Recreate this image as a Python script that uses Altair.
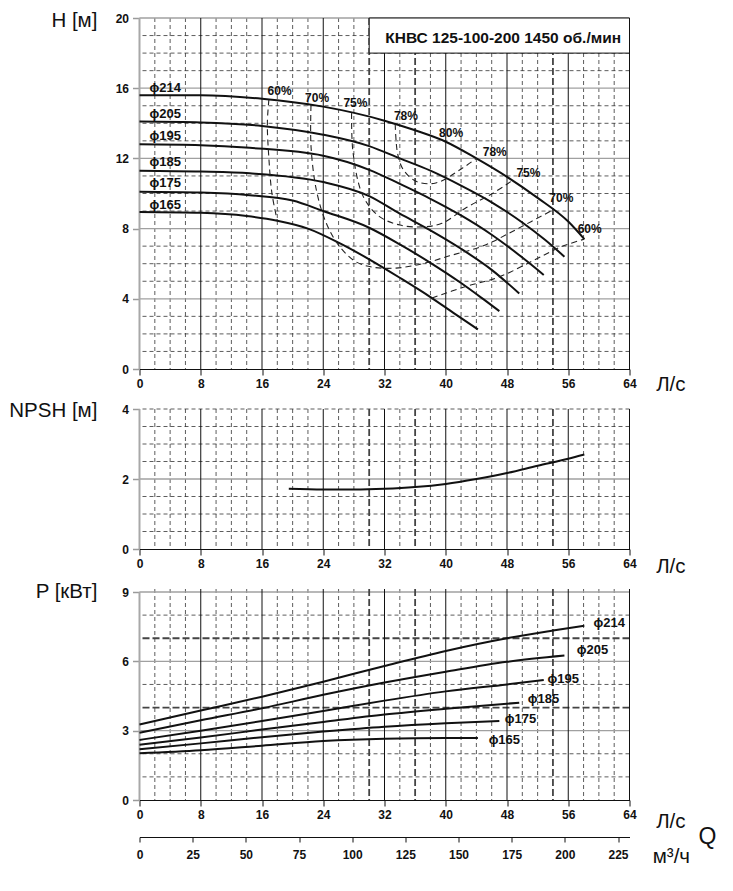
import altair as alt
import pandas as pd

# ---------------- data ----------------
Q_TICKS = [0, 8, 16, 24, 32, 40, 48, 56, 64]
M3_TICKS = [0, 25, 50, 75, 100, 125, 150, 175, 200, 225]
H_TICKS = [0, 4, 8, 12, 16, 20]
NPSH_TICKS = [0, 2, 4]
P_TICKS = [0, 3, 6, 9]

V_SOLID = [8, 16, 24, 32, 40, 48, 56, 64]
V_DASH = [2, 4, 6, 10, 12, 14, 18, 20, 22, 26, 28, 34, 38, 42, 44, 46, 50, 52, 58, 60, 62]
V_BOLD = [30, 36, 54]

H_GRID_SOLID = [4, 8, 12, 16, 20]
H_GRID_DASH = [1, 2, 3, 5, 6, 7, 9, 10, 11, 13, 14, 15, 17, 18, 19]
N_GRID_SOLID = [2]
N_GRID_DASH = [0.5, 1, 1.5, 2.5, 3, 3.5, 4]
P_GRID_SOLID = [3, 6, 9]
P_GRID_DASH = [1, 2, 5, 8]
P_GRID_BOLD = [4, 7]

DIAM = ["ϕ214", "ϕ205", "ϕ195", "ϕ185", "ϕ175", "ϕ165"]

# Head curves H(Q)
H214_Q = [0, 8, 16, 24, 32, 36, 40, 44, 48, 52, 56, 58.1]
H214_H = [15.6, 15.6, 15.4, 14.95, 14.15, 13.6, 12.95, 12.0, 10.95, 9.75, 8.4, 7.4]
H205_Q = [0, 8, 16, 24, 30, 34, 38, 42, 46, 50, 53, 55.5]
H205_H = [14.1, 14.05, 13.85, 13.35, 12.7, 12.0, 11.3, 10.45, 9.5, 8.35, 7.35, 6.4]
H195_Q = [0, 8, 14.4, 24, 30, 34, 38, 42, 46, 50, 52.8]
H195_H = [12.8, 12.75, 12.6, 12.15, 11.35, 10.55, 9.7, 8.75, 7.65, 6.35, 5.36]
H185_Q = [0, 8, 14.4, 24, 30, 34, 38, 42, 46, 49.6]
H185_H = [11.3, 11.25, 11.15, 10.65, 9.85, 8.85, 7.9, 6.85, 5.65, 4.3]
H175_Q = [0, 8, 14.4, 20, 24, 30, 34, 38, 42, 45, 47]
H175_H = [10.1, 10.05, 9.9, 9.6, 9.0, 8.05, 7.1, 6.05, 4.9, 3.95, 3.3]
H165_Q = [0, 8, 14, 18, 22, 26, 30, 34, 38, 41, 44.2]
H165_H = [8.95, 8.9, 8.72, 8.45, 8.0, 7.2, 6.25, 5.2, 4.1, 3.2, 2.26]

# Iso-efficiency curves (dashed)
E60L_Q = [16.9, 16.7, 16.9, 17.3, 18.0]
E60L_H = [15.35, 14.0, 12.0, 10.0, 8.45]
E70_Q = [22.4, 22.4, 23.1, 24.4, 26.1, 28.3, 30.5, 33.5, 37.0, 40.5, 44.8, 49.2, 54.0]
E70_H = [15.04, 12.7, 10.2, 8.3, 7.0, 6.1, 5.8, 5.75, 6.0, 6.45, 7.0, 7.95, 9.07]
E75_Q = [27.7, 27.9, 29.2, 31.3, 34.0, 37.0, 39.5, 42.7, 46.1, 48.7]
E75_H = [14.58, 12.3, 9.85, 8.7, 8.2, 8.1, 8.3, 9.2, 10.0, 10.74]
E78_Q = [33.4, 33.7, 34.4, 36.1, 38.7, 42.2, 44.0]
E78_H = [13.96, 12.3, 11.4, 10.7, 10.6, 11.45, 12.0]
E60R_Q = [38.2, 42.6, 47.0, 51.3, 55.0, 58.1]
E60R_H = [4.05, 4.7, 5.25, 6.15, 6.95, 7.4]

EFF_LABELS = ["60%", "70%", "75%", "78%", "80%", "78%", "75%", "70%", "60%"]
EFF_LABEL_Q = [18.3, 23.2, 28.2, 34.8, 40.7, 46.4, 50.8, 55.1, 58.8]
EFF_LABEL_H = [15.86, 15.43, 15.14, 14.43, 13.42, 12.39, 11.19, 9.75, 7.99]

DIAM_LABEL_Q = [1.3] * 6
DIAM_LABEL_H = [16.0, 14.53, 13.28, 11.82, 10.61, 9.37]

# NPSH curve
NPSH_Q = [19.5, 24, 28, 32, 36, 40, 44, 48, 52, 56, 58.1]
NPSH_V = [1.72, 1.70, 1.70, 1.72, 1.77, 1.86, 2.0, 2.17, 2.38, 2.58, 2.7]

# Power curves P(Q)
P214_Q = [0, 8, 16, 24, 32, 40, 48, 54, 58.1]
P214_P = [3.27, 3.87, 4.47, 5.12, 5.8, 6.45, 7.0, 7.33, 7.54]
P205_Q = [0, 8, 16, 24, 32, 40, 48, 55.5]
P205_P = [2.91, 3.45, 3.97, 4.55, 5.08, 5.55, 5.98, 6.25]
P195_Q = [0, 8, 16, 24, 32, 40, 48, 52.8]
P195_P = [2.6, 3.0, 3.42, 3.85, 4.3, 4.7, 5.0, 5.19]
P185_Q = [0, 8, 16, 24, 32, 40, 49.6]
P185_P = [2.39, 2.7, 3.05, 3.38, 3.7, 3.95, 4.21]
P175_Q = [0, 8, 16, 24, 32, 40, 47]
P175_P = [2.2, 2.45, 2.72, 2.96, 3.17, 3.32, 3.42]
P165_Q = [0, 8, 16, 24, 32, 40, 44.2]
P165_P = [2.02, 2.15, 2.35, 2.55, 2.65, 2.68, 2.68]

PLABEL_Q = [59.3, 57.1, 53.3, 50.7, 47.7, 45.6]
PLABEL_P = [7.65, 6.49, 5.24, 4.37, 3.49, 2.6]

TITLE = "КНВС 125-100-200 1450 об./мин"

# ---------------- styling ----------------
FONT_B = "'Liberation Sans Narrow', 'Liberation Sans', Arial, sans-serif"
FONT_T = "'Liberation Sans', Arial, sans-serif"
INK = "#111111"
TSIZE = 20.5

XAX = alt.Axis(values=Q_TICKS, title=None, grid=False, domainColor=INK, domainWidth=1.2,
               tickColor=INK, tickSize=6, tickWidth=1, labelFont=FONT_B, labelFontSize=12,
               labelFontWeight="bold", labelColor=INK, labelPadding=3, labelFlush=False,
               labelOverlap=False)


def yax(vals):
    return alt.Axis(values=vals, title=None, grid=False, domain=False, tickColor="#9a9a9a",
                    tickSize=7, tickWidth=1.5, labelFont=FONT_B, labelFontSize=12,
                    labelFontWeight="bold", labelColor=INK, labelPadding=4, labelOverlap=False)


def xenc(field="q"):
    return alt.X(f"{field}:Q", scale=alt.Scale(domain=[0, 64], nice=False, zero=False), axis=XAX)


def yenc(dom, vals, field="v"):
    return alt.Y(f"{field}:Q", scale=alt.Scale(domain=dom, nice=False, zero=False), axis=yax(vals))


def curves_df(names, qs, vs):
    rows = []
    for n, ql, vl in zip(names, qs, vs):
        for i, (q, v) in enumerate(zip(ql, vl)):
            rows.append({"d": n, "i": i, "q": q, "v": v})
    return pd.DataFrame(rows)


def grid_layers(dom, vals, hsolid, hdash, hbold):
    L = []
    L.append(alt.Chart(pd.DataFrame({"q": V_DASH})).mark_rule(
        color="#333", strokeWidth=0.8, strokeDash=[4, 3]).encode(x=xenc()))
    L.append(alt.Chart(pd.DataFrame({"v": hdash})).mark_rule(
        color="#333", strokeWidth=0.8, strokeDash=[4, 3]).encode(y=yenc(dom, vals)))
    if hbold:
        L.append(alt.Chart(pd.DataFrame({"v": hbold})).mark_rule(
            color="#444", strokeWidth=1.8, strokeDash=[7, 3]).encode(y=yenc(dom, vals)))
    L.append(alt.Chart(pd.DataFrame({"v": hsolid})).mark_rule(
        color="#a0a0a0", strokeWidth=1.3).encode(y=yenc(dom, vals)))
    L.append(alt.Chart(pd.DataFrame({"q": V_SOLID})).mark_rule(
        color=INK, strokeWidth=1).encode(x=xenc()))
    L.append(alt.Chart(pd.DataFrame({"q": V_BOLD})).mark_rule(
        color="#444", strokeWidth=1.8, strokeDash=[7, 3]).encode(x=xenc()))
    L.append(alt.Chart(pd.DataFrame({"q": [0], "v": [0], "v2": [vals[-1]]})).mark_rule(
        color="#a8a8a8", strokeWidth=2).encode(x=xenc(), y=yenc(dom, vals), y2="v2:Q"))
    return L


def text_layer(df, dom, vals, font, size, weight="bold", align="center", baseline="middle"):
    return alt.Chart(df).mark_text(font=font, fontSize=size, fontWeight=weight, color=INK,
                                   align=align, baseline=baseline).encode(
        x=xenc(), y=yenc(dom, vals), text="t:N")


# ---------------- panel 1: H ----------------
HDOM = [0, 20]
L1 = grid_layers(HDOM, H_TICKS, H_GRID_SOLID, H_GRID_DASH, None)
L1.append(alt.Chart(pd.DataFrame({"q": [30], "q2": [64], "v": [18], "v2": [20]})).mark_rect(
    fill="white", stroke=INK, strokeWidth=1).encode(x=xenc(), x2="q2:Q", y=yenc(HDOM, H_TICKS), y2="v2:Q"))
L1.append(text_layer(pd.DataFrame({"q": [47.5], "v": [18.85], "t": [TITLE]}), HDOM, H_TICKS,
                     "'Liberation Sans', Arial, sans-serif", 15.5))
hdf = curves_df(DIAM, [H214_Q, H205_Q, H195_Q, H185_Q, H175_Q, H165_Q],
                [H214_H, H205_H, H195_H, H185_H, H175_H, H165_H])
L1.append(alt.Chart(hdf).mark_line(color=INK, strokeWidth=2, interpolate="monotone").encode(
    x=xenc(), y=yenc(HDOM, H_TICKS), detail="d:N", order="i:Q"))
edf = curves_df(["e60l", "e70", "e75", "e78", "e60r"], [E60L_Q, E70_Q, E75_Q, E78_Q, E60R_Q],
                [E60L_H, E70_H, E75_H, E78_H, E60R_H])
L1.append(alt.Chart(edf).mark_line(color="#222", strokeWidth=1.1, strokeDash=[6, 4],
                                   interpolate="catmull-rom").encode(
    x=xenc(), y=yenc(HDOM, H_TICKS), detail="d:N", order="i:Q"))
L1.append(text_layer(pd.DataFrame({"q": EFF_LABEL_Q, "v": EFF_LABEL_H, "t": EFF_LABELS}),
                     HDOM, H_TICKS, FONT_B, 12))
L1.append(text_layer(pd.DataFrame({"q": DIAM_LABEL_Q, "v": DIAM_LABEL_H, "t": DIAM}),
                     HDOM, H_TICKS, FONT_B, 13, align="left"))
L1.append(text_layer(pd.DataFrame({"q": [-5.5], "v": [19.487], "t": ["H [м]"]}),
                     HDOM, H_TICKS, FONT_T, TSIZE, weight="normal", align="right",
                     baseline="alphabetic"))
L1.append(text_layer(pd.DataFrame({"q": [69.4], "v": [-0.91], "t": ["Л/с"]}),
                     HDOM, H_TICKS, FONT_T, TSIZE, weight="normal"))
p1 = alt.layer(*L1).properties(width=490, height=351)

# ---------------- panel 2: NPSH ----------------
NDOM = [0, 4]
L2 = grid_layers(NDOM, NPSH_TICKS, N_GRID_SOLID, N_GRID_DASH, None)
L2.append(alt.Chart(pd.DataFrame({"q": NPSH_Q, "v": NPSH_V})).mark_line(
    color=INK, strokeWidth=2, interpolate="monotone").encode(x=xenc(), y=yenc(NDOM, NPSH_TICKS)))
L2.append(text_layer(pd.DataFrame({"q": [-5.5], "v": [3.95], "t": ["NPSH [м]"]}),
                     NDOM, NPSH_TICKS, FONT_T, TSIZE, weight="normal", align="right"))
L2.append(text_layer(pd.DataFrame({"q": [69.4], "v": [-0.51], "t": ["Л/с"]}),
                     NDOM, NPSH_TICKS, FONT_T, TSIZE, weight="normal"))
p2 = alt.layer(*L2).properties(width=490, height=140)

# ---------------- panel 3: power ----------------
PDOM = [0, 9.13]
L3 = grid_layers(PDOM, P_TICKS, P_GRID_SOLID, P_GRID_DASH, P_GRID_BOLD)
pdf = curves_df(DIAM, [P214_Q, P205_Q, P195_Q, P185_Q, P175_Q, P165_Q],
                [P214_P, P205_P, P195_P, P185_P, P175_P, P165_P])
L3.append(alt.Chart(pdf).mark_line(color=INK, strokeWidth=2, interpolate="monotone").encode(
    x=xenc(), y=yenc(PDOM, P_TICKS), detail="d:N", order="i:Q"))
L3.append(text_layer(pd.DataFrame({"q": PLABEL_Q, "v": PLABEL_P, "t": DIAM}),
                     PDOM, P_TICKS, FONT_B, 13, align="left"))
L3.append(text_layer(pd.DataFrame({"q": [-5.5], "v": [9.0], "t": ["P [кВт]"]}),
                     PDOM, P_TICKS, FONT_T, TSIZE, weight="normal", align="right"))
L3.append(text_layer(pd.DataFrame({"q": [69.4], "v": [-0.95], "t": ["Л/с"]}),
                     PDOM, P_TICKS, FONT_T, TSIZE, weight="normal"))

M3AX = alt.Axis(values=M3_TICKS, orient="bottom", offset=37, title=None, grid=False,
                domainColor=INK, domainWidth=1.2, tickColor=INK, tickSize=5, tickWidth=1,
                labelFont=FONT_B, labelFontSize=12, labelFontWeight="bold", labelColor=INK,
                labelPadding=7, labelFlush=False, labelOverlap=False)


def m3_text(df, size):
    return alt.Chart(df).mark_text(font=FONT_T, fontSize=size, color=INK, align="center",
                                   baseline="middle").encode(
        x=alt.X("m:Q", scale=alt.Scale(domain=[0, 230.4], nice=False, zero=False), axis=M3AX),
        y=yenc(PDOM, P_TICKS), text="t:N")


m3_layer = alt.layer(
    m3_text(pd.DataFrame({"m": [267.1], "v": [-1.6], "t": ["Q"]}), 23),
    m3_text(pd.DataFrame({"m": [250.1], "v": [-2.47], "t": ["м³/ч"]}), TSIZE),
)
p3 = alt.layer(alt.layer(*L3), m3_layer).resolve_scale(x="independent").properties(
    width=490, height=211)

chart = alt.vconcat(p1, p2, p3, spacing=40, bounds="flush").configure_view(
    stroke=None).properties(background="white", padding={"left": 0.5, "top": 3, "right": 5, "bottom": 5})

chart.save("out.html", embed_options={"renderer": "svg", "actions": False})
